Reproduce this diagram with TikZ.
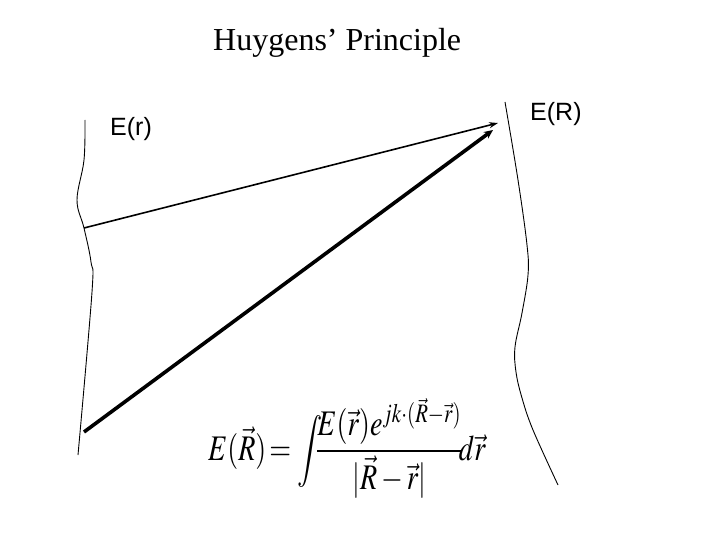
\documentclass[tikz,border=0pt]{standalone}
\usepackage{fontspec}
\usepackage{mathptmx}
\setmainfont{Liberation Serif}
\newfontfamily\arialfont{Liberation Sans}
\usetikzlibrary{arrows.meta}
\tikzset{
  wavefront/.style={line width=0.9pt, black},
  ray/.style={line width=1.6pt, -{Stealth[length=9pt,width=6pt]}},
  thickray/.style={line width=3.6pt, -{Stealth[length=9pt,width=8pt]}},
  lbl/.style={font=\arialfont\fontsize{25}{28}\selectfont, inner sep=0pt},
}
\begin{document}
\begin{tikzpicture}[x=1pt,y=-1pt]
\useasboundingbox (0,0) rectangle (720,540);
% title
\node[anchor=base west, inner sep=0pt, font=\fontsize{32}{35}\selectfont] (title) at (213,51) {Huygens’ Principle};
% labels
\node[lbl, anchor=base west] (Er) at (110,136) {E(r)};
\node[lbl, anchor=base west] (ER) at (530,121) {E(R)};
% wavefronts
\draw[wavefront] plot[smooth, tension=0.6] coordinates {(85,120) (84,160) (77,200) (84,228) (91,262) (92,292) (78,455)};
\draw[wavefront] plot[smooth, tension=0.6] coordinates {(505,102) (518,180) (527,245) (528,275) (522,313) (515,347) (516,372) (522,398) (533,430) (558,485)};
% ray end points
\coordinate (s1) at (84,228);
\coordinate (s2) at (84,432);
\coordinate (d1) at (498,123);
\coordinate (d2) at (493,130);
\draw[ray] (s1) -- (d1);
\draw[thickray] (s2) -- (d2);
% formula
\node[anchor=base west, inner sep=0pt, font=\fontsize{36}{40}\selectfont] (formula) at (208,460)
  {\scalebox{0.78}[1]{$\displaystyle E(\vec{R})\mskip2mu{=}\mskip2mu\int\!\!\!\frac{E(\vec{r})e^{jk\cdot(\vec{R}-\vec{r})}}{|\vec{R}-\vec{r}|}\!d\vec{r}$}};
\end{tikzpicture}
\end{document}
